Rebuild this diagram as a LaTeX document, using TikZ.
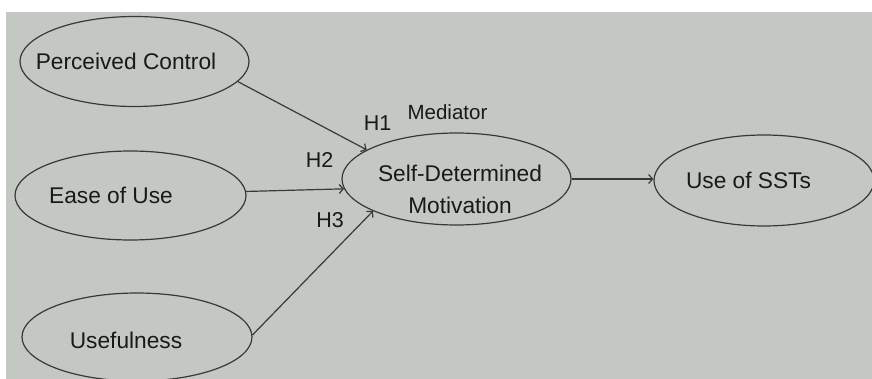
\documentclass[tikz,border=0pt]{standalone}
\usepackage{fontspec}
\setmainfont{Liberation Sans}
\usepackage{tikz}
\usetikzlibrary{shapes.geometric,arrows.meta,positioning,calc}
\definecolor{paneltone}{RGB}{196,200,194}
\definecolor{inkline}{RGB}{55,57,55}

\begin{document}
\begin{tikzpicture}[
        x=1pt, y=-1pt,
        % every construct is a plain ellipse, its text set on top
        construct/.style={ellipse, draw=inkline, line width=1.2pt,
            inner sep=0pt, minimum width=229pt, minimum height=90pt},
        caption/.style={text=black!90, font=\fontsize{22.7}{32}\selectfont, align=center, inner sep=0pt},
        tag/.style={text=black!90, font=\fontsize{21.5}{25}\selectfont, inner sep=0pt},
        path/.style={draw=inkline, line width=1.2pt, -{Straight Barb[length=4pt,width=9pt]}}
    ]
        \useasboundingbox (0,0) rectangle (872,379);
        \fill[white] (0,0) rectangle (872,379);
        \fill[paneltone] (6,12) rectangle (872,379);

        \node[construct] (control) at (134.5,61.5) {};
        \node[construct, minimum width=231pt, minimum height=89pt] (ease) at (130.5,195.5) {};
        \node[construct, minimum width=230pt, minimum height=88pt] (useful) at (137,337) {};
        \node[construct, minimum height=92pt] (motive) at (456.5,179) {};
        \node[construct, minimum width=220pt, minimum height=91pt] (usage) at (764,180.5) {};

        \node[caption] (control-txt) at ([xshift=-8.5pt]control.center) {Perceived Control};
        \node[caption] (ease-txt) at ([xshift=-19.5pt]ease.center) {Ease of Use};
        \node[caption] (useful-txt) at ([xshift=-11pt,yshift=-3pt]useful.center) {Usefulness};
        \node[caption] (motive-txt) at ([xshift=3.5pt,yshift=-10pt]motive.center) {Self-Determined\\Motivation};
        \node[caption] (usage-txt) at ([xshift=-15.5pt]usage.center) {Use of SSTs};

        \node[tag, font=\fontsize{20.5}{24}\selectfont] (mediator) at (447.5,112) {Mediator};
        \node[tag] (h1) at (377.5,123.5) {H1};
        \node[tag] (h2) at (319.5,160) {H2};
        \node[tag] (h3) at (330,220.5) {H3};

        % Connections
        \draw[path] (control.-11) -- (motive.162);
        \draw[path] (ease.2) -- (motive.185);
        \draw[path] (useful.1) -- (motive.201);
        \draw[path] (motive.east) -- (motive.east -| usage.west);
    \end{tikzpicture}
\end{document}
